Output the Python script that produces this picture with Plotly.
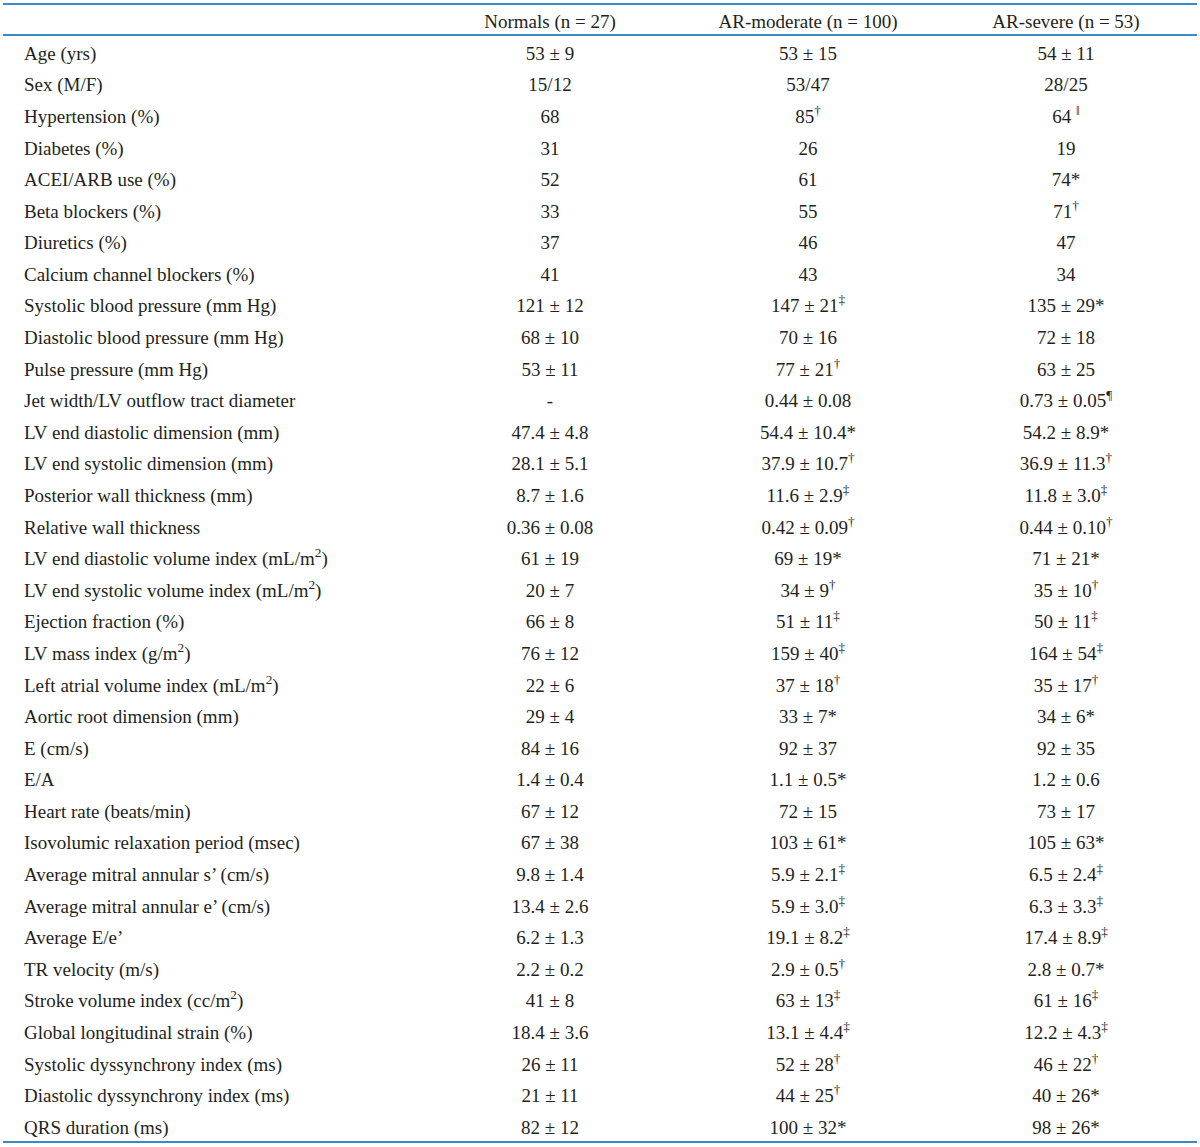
import plotly.graph_objects as go

groups = ["Normals (n = 27)", "AR-moderate (n = 100)", "AR-severe (n = 53)"]

variables = [
    "Age (yrs)", "Sex (M/F)", "Hypertension (%)", "Diabetes (%)", "ACEI/ARB use (%)",
    "Beta blockers (%)", "Diuretics (%)", "Calcium channel blockers (%)",
    "Systolic blood pressure (mm Hg)", "Diastolic blood pressure (mm Hg)",
    "Pulse pressure (mm Hg)", "Jet width/LV outflow tract diameter",
    "LV end diastolic dimension (mm)", "LV end systolic dimension (mm)",
    "Posterior wall thickness (mm)", "Relative wall thickness",
    "LV end diastolic volume index (mL/m<sup>2</sup>)",
    "LV end systolic volume index (mL/m<sup>2</sup>)",
    "Ejection fraction (%)", "LV mass index (g/m<sup>2</sup>)",
    "Left atrial volume index (mL/m<sup>2</sup>)", "Aortic root dimension (mm)",
    "E (cm/s)", "E/A", "Heart rate (beats/min)", "Isovolumic relaxation period (msec)",
    "Average mitral annular s’ (cm/s)", "Average mitral annular e’ (cm/s)",
    "Average E/e’", "TR velocity (m/s)", "Stroke volume index (cc/m<sup>2</sup>)",
    "Global longitudinal strain (%)", "Systolic dyssynchrony index (ms)",
    "Diastolic dyssynchrony index (ms)", "QRS duration (ms)",
]

normals = [
    "53 ± 9", "15/12", "68", "31", "52", "33", "37", "41", "121 ± 12", "68 ± 10",
    "53 ± 11", "-", "47.4 ± 4.8", "28.1 ± 5.1", "8.7 ± 1.6", "0.36 ± 0.08",
    "61 ± 19", "20 ± 7", "66 ± 8", "76 ± 12", "22 ± 6", "29 ± 4", "84 ± 16",
    "1.4 ± 0.4", "67 ± 12", "67 ± 38", "9.8 ± 1.4", "13.4 ± 2.6", "6.2 ± 1.3",
    "2.2 ± 0.2", "41 ± 8", "18.4 ± 3.6", "26 ± 11", "21 ± 11", "82 ± 12",
]

ar_moderate = [
    "53 ± 15", "53/47", "85<sup>†</sup>", "26", "61", "55", "46", "43",
    "147 ± 21<sup>‡</sup>", "70 ± 16", "77 ± 21<sup>†</sup>", "0.44 ± 0.08",
    "54.4 ± 10.4*", "37.9 ± 10.7<sup>†</sup>", "11.6 ± 2.9<sup>‡</sup>",
    "0.42 ± 0.09<sup>†</sup>", "69 ± 19*", "34 ± 9<sup>†</sup>", "51 ± 11<sup>‡</sup>",
    "159 ± 40<sup>‡</sup>", "37 ± 18<sup>†</sup>", "33 ± 7*", "92 ± 37", "1.1 ± 0.5*",
    "72 ± 15", "103 ± 61*", "5.9 ± 2.1<sup>‡</sup>", "5.9 ± 3.0<sup>‡</sup>",
    "19.1 ± 8.2<sup>‡</sup>", "2.9 ± 0.5<sup>†</sup>", "63 ± 13<sup>‡</sup>",
    "13.1 ± 4.4<sup>‡</sup>", "52 ± 28<sup>†</sup>", "44 ± 25<sup>†</sup>", "100 ± 32*",
]

ar_severe = [
    "54 ± 11", "28/25", "64 <sup>‖</sup>", "19", "74*", "71<sup>†</sup>", "47", "34",
    "135 ± 29*", "72 ± 18", "63 ± 25", "0.73 ± 0.05<sup>¶</sup>", "54.2 ± 8.9*",
    "36.9 ± 11.3<sup>†</sup>", "11.8 ± 3.0<sup>‡</sup>", "0.44 ± 0.10<sup>†</sup>",
    "71 ± 21*", "35 ± 10<sup>†</sup>", "50 ± 11<sup>‡</sup>", "164 ± 54<sup>‡</sup>",
    "35 ± 17<sup>†</sup>", "34 ± 6*", "92 ± 35", "1.2 ± 0.6", "73 ± 17", "105 ± 63*",
    "6.5 ± 2.4<sup>‡</sup>", "6.3 ± 3.3<sup>‡</sup>", "17.4 ± 8.9<sup>‡</sup>",
    "2.8 ± 0.7*", "61 ± 16<sup>‡</sup>", "12.2 ± 4.3<sup>‡</sup>", "46 ± 22<sup>†</sup>",
    "40 ± 26*", "98 ± 26*",
]

W, H = 1200, 1147
FONT = "Liberation Serif"
FS = 19
TXT = "#231f20"
LINE = "#3a8ac3"

HEADER_ROW = " "
LABEL_COL = "label"
rows = [HEADER_ROW] + variables
columns = [normals, ar_moderate, ar_severe]
tf = dict(family=FONT, size=FS, color=TXT)

fig = go.Figure()
# row labels (left aligned, own x axis)
fig.add_trace(go.Scatter(
    x=[LABEL_COL] * len(variables), y=variables, text=variables, mode="text",
    textposition="middle right", textfont=tf, xaxis="x2",
    hoverinfo="skip", showlegend=False,
))
# header row
fig.add_trace(go.Scatter(
    x=groups, y=[HEADER_ROW] * len(groups), text=groups, mode="text",
    textposition="middle center", textfont=tf,
    hoverinfo="skip", showlegend=False,
))
for g, vals in zip(groups, columns):
    fig.add_trace(go.Scatter(
        x=[g] * len(vals), y=variables, text=vals, mode="text",
        textposition="middle center", textfont=tf,
        hoverinfo="skip", showlegend=False,
    ))

# row pitch ~31.6 px
pitch = (1127 - 53) / 34
first = 55.0
top_i = 1 - first / pitch
bot_i = 1 + (H - first) / pitch
# column pitch ~258 px
cp = 258
c0 = 550
left_k = -c0 / cp
right_k = (W - c0) / cp

hidden = dict(showticklabels=False, showgrid=False, zeroline=False,
              showline=False, ticks="")
fig.update_layout(
    xaxis=dict(type="category", categoryorder="array", categoryarray=groups,
               range=[left_k, right_k], **hidden),
    xaxis2=dict(type="category", categoryarray=[LABEL_COL], overlaying="x",
                range=[-0.0204, 1], **hidden),
    yaxis=dict(type="category", categoryorder="array", categoryarray=rows,
               range=[bot_i, top_i], **hidden),
    width=W, height=H,
    margin=dict(l=0, r=0, t=0, b=0),
    paper_bgcolor="white", plot_bgcolor="white",
)

for yy in [4, 35, 1142]:
    fig.add_shape(type="line", xref="paper", yref="paper",
                  x0=3 / W, x1=1197 / W, y0=1 - yy / H, y1=1 - yy / H,
                  line=dict(color=LINE, width=2))

fig.write_html("out.html",
               config={"displayModeBar": False, "staticPlot": True},
               post_script="document.body.style.margin='0';document.body.style.overflow='hidden';")
